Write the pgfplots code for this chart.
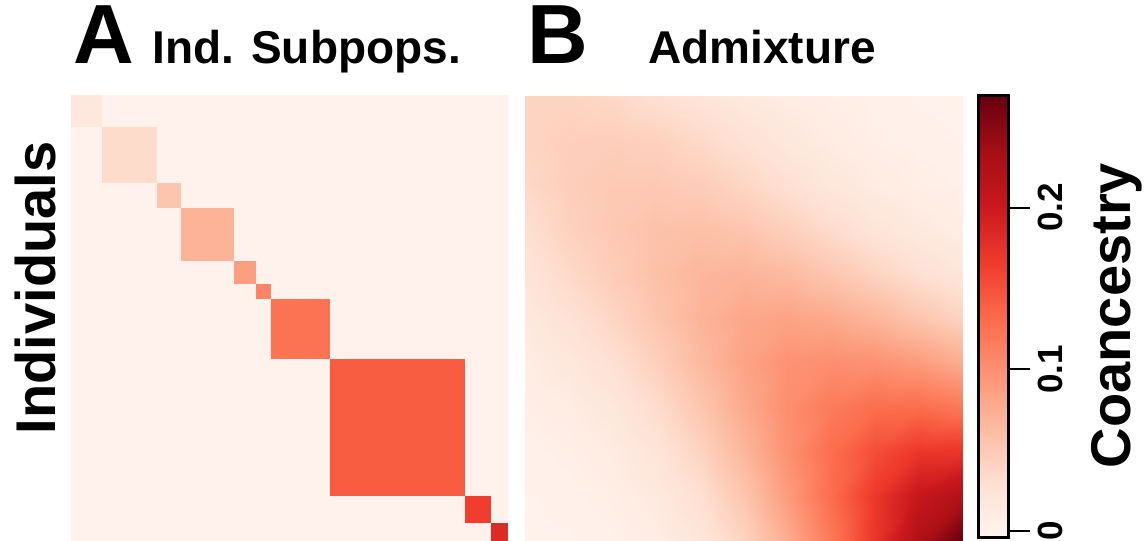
\documentclass[border=0pt]{standalone}
\usepackage{pgfplots}
\pgfplotsset{compat=1.18}
\usepackage{fontspec}
\setmainfont{Liberation Sans}
\pgfplotsset{
  colormap={reds}{rgb255=(255,245,240) rgb255=(254,224,210) rgb255=(252,187,161) rgb255=(252,146,114) rgb255=(251,106,74) rgb255=(239,59,44) rgb255=(203,24,29) rgb255=(165,15,21) rgb255=(103,0,13)},
}
\newcommand\fBig{\fontsize{42bp}{42bp}\selectfont\bfseries}
\newcommand\fTitle{\fontsize{23bp}{23bp}\selectfont\bfseries}
\newcommand\fLab{\fontsize{28bp}{28bp}\selectfont\bfseries}
\newcommand\fTick{\fontsize{17.5bp}{17.5bp}\selectfont\bfseries}

\begin{document}
\begin{tikzpicture}[x=0.5bp,y=0.5bp]
\useasboundingbox (0,0) rectangle (1148,541);

% ---------- Panel A ----------
\begin{axis}[at={(35.5bp,0.5bp)}, anchor=south west, width=218.4bp, height=222.2bp,
  scale only axis, hide axis, xmin=0, xmax=1000, ymin=0, ymax=1000, y dir=reverse,
  colormap name=reds, point meta min=-0.0043, point meta max=0.269]
\addplot[surf, shader=flat corner, mesh/cols=11, point meta=explicit] table[meta=c] {
x y c
0 0 0.017
72 0 0
197 0 0
253 0 0
373 0 0
424 0 0
459 0 0
594 0 0
902 0 0
963 0 0
1000 0 0
0 72 0
72 72 0.034
197 72 0
253 72 0
373 72 0
424 72 0
459 72 0
594 72 0
902 72 0
963 72 0
1000 72 0
0 197 0
72 197 0
197 197 0.055
253 197 0
373 197 0
424 197 0
459 197 0
594 197 0
902 197 0
963 197 0
1000 197 0
0 253 0
72 253 0
197 253 0
253 253 0.071
373 253 0
424 253 0
459 253 0
594 253 0
902 253 0
963 253 0
1000 253 0
0 373 0
72 373 0
197 373 0
253 373 0
373 373 0.088
424 373 0
459 373 0
594 373 0
902 373 0
963 373 0
1000 373 0
0 424 0
72 424 0
197 424 0
253 424 0
373 424 0
424 424 0.110
459 424 0
594 424 0
902 424 0
963 424 0
1000 424 0
0 459 0
72 459 0
197 459 0
253 459 0
373 459 0
424 459 0
459 459 0.125
594 459 0
902 459 0
963 459 0
1000 459 0
0 594 0
72 594 0
197 594 0
253 594 0
373 594 0
424 594 0
459 594 0
594 594 0.142
902 594 0
963 594 0
1000 594 0
0 902 0
72 902 0
197 902 0
253 902 0
373 902 0
424 902 0
459 902 0
594 902 0
902 902 0.165
963 902 0
1000 902 0
0 963 0
72 963 0
197 963 0
253 963 0
373 963 0
424 963 0
459 963 0
594 963 0
902 963 0
963 963 0.183
1000 963 0
0 1000 0
72 1000 0
197 1000 0
253 1000 0
373 1000 0
424 1000 0
459 1000 0
594 1000 0
902 1000 0
963 1000 0
1000 1000 0
};
\end{axis}

% ---------- Panel B ----------
\begin{axis}[at={(262.5bp,0.5bp)}, anchor=south west, width=218.5bp, height=222bp,
  scale only axis, hide axis, xmin=0, xmax=10, ymin=0, ymax=10, y dir=reverse,
  colormap name=reds, point meta min=-0.0043, point meta max=0.269]
\addplot[surf, shader=interp, mesh/cols=11, point meta=explicit] table[meta=c] {
x y c
0 0 .0420
1 0 .0410
2 0 .0370
3 0 .0300
4 0 .0230
5 0 .0160
6 0 .0098
7 0 .0062
8 0 .0032
9 0 .0015
10 0 .0008
0 1 .0410
1 1 .0455
2 1 .0465
3 1 .0437
4 1 .0365
5 1 .0272
6 1 .0179
7 1 .0106
8 1 .0058
9 1 .0030
10 1 .0016
0 2 .0370
1 2 .0465
2 2 .0511
3 2 .0517
4 2 .0478
5 2 .0395
6 2 .0290
7 2 .0192
8 2 .0118
9 2 .0068
10 2 .0040
0 3 .0300
1 3 .0437
2 3 .0517
3 3 .0579
4 3 .0594
5 3 .0548
6 3 .0451
7 3 .0334
8 3 .0230
9 3 .0150
10 3 .0095
0 4 .0230
1 4 .0365
2 4 .0478
3 4 .0594
4 4 .0681
5 4 .0703
6 4 .0648
7 4 .0540
8 4 .0418
9 4 .0300
10 4 .0210
0 5 .0160
1 5 .0272
2 5 .0395
3 5 .0548
4 5 .0703
5 5 .0813
6 5 .0842
7 5 .0789
8 5 .0684
9 5 .0545
10 5 .0420
0 6 .0098
1 6 .0179
2 6 .0290
3 6 .0451
4 6 .0648
5 6 .0842
6 6 .0980
7 6 .1015
8 6 .0990
9 6 .0900
10 6 .0760
0 7 .0062
1 7 .0106
2 7 .0192
3 7 .0334
4 7 .0540
5 7 .0789
6 7 .1015
7 7 .1180
8 7 .1290
9 7 .1300
10 7 .1200
0 8 .0032
1 8 .0058
2 8 .0118
3 8 .0230
4 8 .0418
5 8 .0684
6 8 .0990
7 8 .1290
8 8 .1530
9 8 .1700
10 8 .1720
0 9 .0015
1 9 .0030
2 9 .0068
3 9 .0150
4 9 .0300
5 9 .0545
6 9 .0900
7 9 .1300
8 9 .1700
9 9 .2050
10 9 .2250
0 10 .0008
1 10 .0016
2 10 .0040
3 10 .0095
4 10 .0210
5 10 .0420
6 10 .0760
7 10 .1200
8 10 .1720
9 10 .2250
10 10 .2700
};
\end{axis}

% ---------- Colour bar ----------
\begin{axis}[at={(489bp,1.5bp)}, anchor=south west, width=15bp, height=221bp,
  scale only axis, xmin=0, xmax=1, ymin=-0.0043, ymax=0.269,
  colormap name=reds, point meta min=-0.0043, point meta max=0.269,
  xtick=\empty, ytick={0,0.1,0.2}, yticklabels={}, ytick pos=right,
  tick align=outside, major tick length=11bp,
  tick style={black, line width=1bp},
  axis line style={black, line width=1.5bp}, axis on top, clip=false]
\addplot[surf, shader=interp, mesh/cols=2, point meta=explicit] table[meta=c] {
x y c
0 -0.0043 -0.0043
1 -0.0043 -0.0043
0 0.0299 0.0299
1 0.0299 0.0299
0 0.0640 0.0640
1 0.0640 0.0640
0 0.0982 0.0982
1 0.0982 0.0982
0 0.1323 0.1323
1 0.1323 0.1323
0 0.1665 0.1665
1 0.1665 0.1665
0 0.2007 0.2007
1 0.2007 0.2007
0 0.2348 0.2348
1 0.2348 0.2348
0 0.2690 0.2690
1 0.2690 0.2690
};
\node[rotate=90, anchor=base, font=\fTick, inner sep=0pt] at ([xshift=27bp]axis cs:1,0) {0};
\node[rotate=90, anchor=base, font=\fTick, inner sep=0pt] at ([xshift=27bp]axis cs:1,0.1) {0.1};
\node[rotate=90, anchor=base, font=\fTick, inner sep=0pt] at ([xshift=27bp]axis cs:1,0.2) {0.2};
\end{axis}

% ---------- Texts ----------
\node[anchor=base west, font=\fBig, inner sep=0pt] at (73,477) {A};
\node[anchor=base west, font=\fTitle, inner sep=0pt] at (152,477) {Ind. Subpops.};
\node[anchor=base west, font=\fBig, inner sep=0pt] at (527,477) {B};
\node[anchor=base west, font=\fTitle, inner sep=0pt] at (648,477) {Admixture};
\node[rotate=90, anchor=base, font=\fLab, inner sep=0pt] at (55,253) {Individuals};
\node[rotate=90, anchor=base, font=\fLab, inner sep=0pt] at (1130,225.5) {Coancestry};
\end{tikzpicture}
\end{document}
